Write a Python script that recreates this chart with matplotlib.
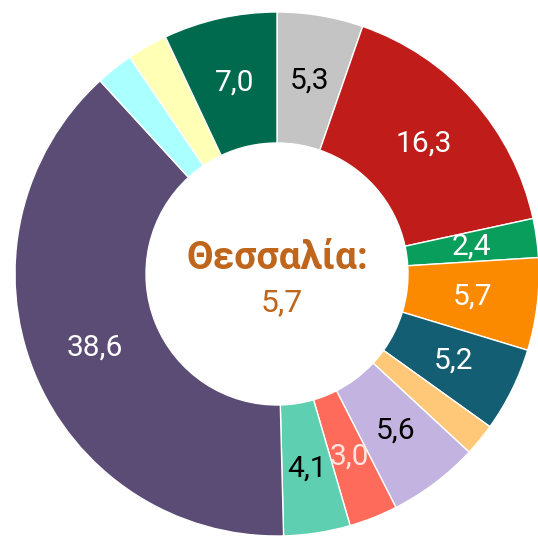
import matplotlib
matplotlib.use('Agg')
import matplotlib.pyplot as plt

# shares, clockwise from the top
values = [5.3, 16.3, 2.4, 5.7, 5.2, 2.0, 5.6, 3.0, 4.1, 38.6, 2.3, 2.5, 7.0]
labels = ['5,3', '16,3', '2,4', '5,7', '5,2', '', '5,6', '3,0', '4,1', '38,6', '', '', '7,0']
colors = ['#c4c4c4', '#c01d1a', '#0a9e5c', '#fb8a00', '#135e72', '#ffc878', '#c3b3e0',
          '#ff6b5b', '#5ecfb1', '#5a4c74', '#aaffff', '#ffffb5', '#006a4e']
label_colors = ['black', 'white', 'white', 'white', 'white', 'white', 'black',
                '#ffe4e0', 'black', 'white', 'white', 'white', 'white']
center_title = 'Θεσσαλία:'
center_value = '5,7'

plt.rcParams['font.family'] = ['Roboto', 'DejaVu Sans']

fig = plt.figure(figsize=(5.38, 5.38), dpi=100)
ax = fig.add_axes([0, 0, 1, 1])

wedges, texts = ax.pie(values, labels=labels, colors=colors, startangle=90, counterclock=False,
                       radius=1.0, labeldistance=0.75,
                       wedgeprops=dict(width=0.5, edgecolor='white', linewidth=1),
                       textprops=dict(fontsize=21.5))
for t, c in zip(texts, label_colors):
    t.set_color(c)
    t.set_ha('center')
    t.set_va('center')

ax.text(0.0, 0.06, center_title, ha='center', va='center', fontsize=28,
        fontweight='bold', color='#c0651c')
ax.text(0.02, -0.11, center_value, ha='center', va='center', fontsize=23, color='#c0651c')

# center of donut at pixel (277, 274), radius about 262 px
ax.set_xlim(-277 / 262, 261 / 262)
ax.set_ylim(-264 / 262, 274 / 262)
ax.set_aspect('equal')
ax.axis('off')

plt.savefig('out.png', dpi=100)
